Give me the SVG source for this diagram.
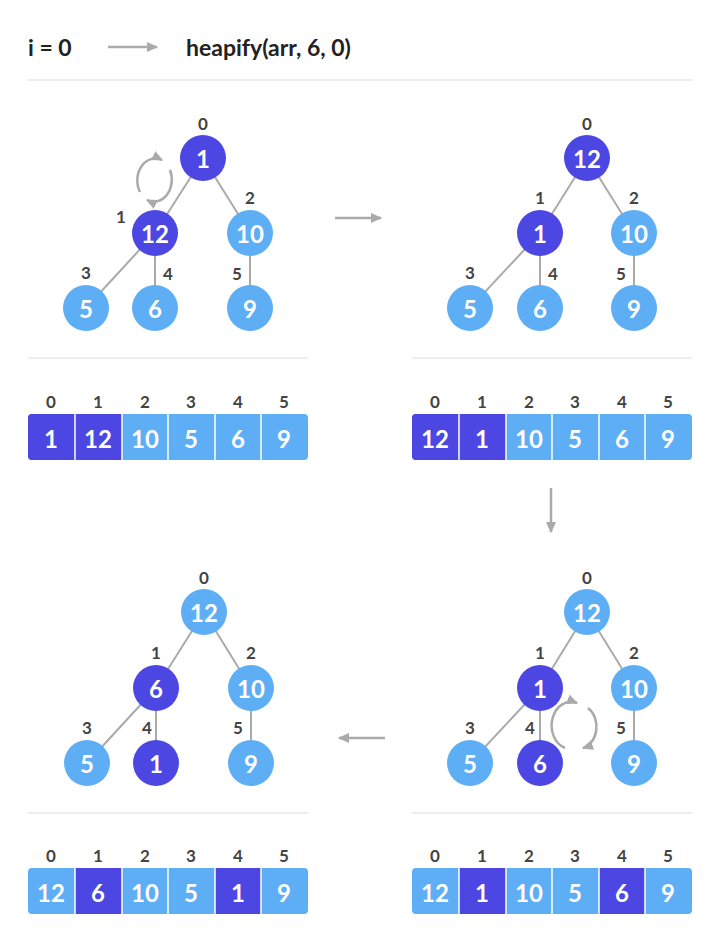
<svg xmlns="http://www.w3.org/2000/svg" width="720" height="943" viewBox="0 0 720 943">
<defs>
<marker id="ah" viewBox="0 0 10 10" refX="8" refY="5" markerWidth="5" markerHeight="5" orient="auto"><path d="M0,1 L9,5 L0,9 z" fill="#aaaaaa"/></marker>
<style>
.d{fill:#4c46e3}.l{fill:#5eaef6}
.nt{font-family:Lato,"Liberation Sans",sans-serif;font-weight:bold;font-size:24px;fill:#fff;text-anchor:middle;dominant-baseline:central}
.ix{font-family:Lato,"Liberation Sans",sans-serif;font-weight:bold;font-size:17px;fill:#444;text-anchor:middle}
.e{stroke:#aaaaaa;stroke-width:2;fill:none}
.sep{stroke:#eeeeee;stroke-width:2}
.ar{stroke:#aaaaaa;stroke-width:2.5;fill:none;marker-end:url(#ah)}
.cl{stroke:#fff;stroke-width:1.5}
</style>
</defs>
<rect width="720" height="943" fill="#fff"/>
<text x="28" y="56" font-family="Lato,'Liberation Sans',sans-serif" font-weight="bold" font-size="23" fill="#222">i = 0</text>
<text x="186" y="56" font-family="Lato,'Liberation Sans',sans-serif" font-weight="bold" font-size="23" fill="#222">heapify(arr, 6, 0)</text>
<g id="connectors">
<line class="ar" x1="108" y1="47" x2="157" y2="47"/>
<line class="ar" x1="335" y1="218" x2="381" y2="218"/>
<line class="ar" x1="551" y1="488" x2="551" y2="532"/>
<line class="ar" x1="385" y1="738" x2="339" y2="738"/>
<line class="sep" x1="28" y1="80" x2="692" y2="80"/>
<line class="sep" x1="28" y1="358" x2="308" y2="358"/>
<line class="sep" x1="412" y1="358" x2="692" y2="358"/>
<line class="sep" x1="28" y1="813" x2="308" y2="813"/>
<line class="sep" x1="412" y1="813" x2="692" y2="813"/>
<path class="ar" d="M140,192 A18,22 0 0 1 162,160"/>
<path class="ar" d="M170,170 A18,22 0 0 1 147,200"/>
<path class="ar" d="M565,748 A18,22 0 0 1 577,703"/>
<path class="ar" d="M588,708 A18,22 0 0 1 583,748"/>
</g>
<g id="tree1">
<path class="e" d="M203,158 L155,233 M203,158 L250,233 M155,233 L86,308 M155,233 L155,308 M250,233 L250,308"/>
<circle class="d" cx="203" cy="158" r="23"/><text class="nt" x="203" y="158">1</text>
<circle class="d" cx="155" cy="233" r="23"/><text class="nt" x="155" y="233">12</text>
<circle class="l" cx="250" cy="233" r="23"/><text class="nt" x="250" y="233">10</text>
<circle class="l" cx="86" cy="308" r="23"/><text class="nt" x="86" y="308">5</text>
<circle class="l" cx="155" cy="308" r="23"/><text class="nt" x="155" y="308">6</text>
<circle class="l" cx="250" cy="308" r="23"/><text class="nt" x="250" y="308">9</text>
<text class="ix" x="203" y="130">0</text><text class="ix" x="121" y="223">1</text><text class="ix" x="250" y="204">2</text>
<text class="ix" x="86" y="279">3</text><text class="ix" x="168" y="280">4</text><text class="ix" x="237" y="280">5</text>
</g>
<g id="tree2">
<path class="e" d="M587,158 L540,233 M587,158 L634,233 M540,233 L470,308 M540,233 L540,308 M634,233 L634,308"/>
<circle class="d" cx="587" cy="158" r="23"/><text class="nt" x="587" y="158">12</text>
<circle class="d" cx="540" cy="233" r="23"/><text class="nt" x="540" y="233">1</text>
<circle class="l" cx="634" cy="233" r="23"/><text class="nt" x="634" y="233">10</text>
<circle class="l" cx="470" cy="308" r="23"/><text class="nt" x="470" y="308">5</text>
<circle class="l" cx="540" cy="308" r="23"/><text class="nt" x="540" y="308">6</text>
<circle class="l" cx="634" cy="308" r="23"/><text class="nt" x="634" y="308">9</text>
<text class="ix" x="587" y="130">0</text><text class="ix" x="540" y="204">1</text><text class="ix" x="634" y="204">2</text>
<text class="ix" x="470" y="279">3</text><text class="ix" x="553" y="280">4</text><text class="ix" x="621" y="280">5</text>
</g>
<g id="tree3">
<path class="e" d="M204,612 L156,688 M204,612 L251,688 M156,688 L87,763 M156,688 L156,763 M251,688 L251,763"/>
<circle class="l" cx="204" cy="612" r="23"/><text class="nt" x="204" y="612">12</text>
<circle class="d" cx="156" cy="688" r="23"/><text class="nt" x="156" y="688">6</text>
<circle class="l" cx="251" cy="688" r="23"/><text class="nt" x="251" y="688">10</text>
<circle class="l" cx="87" cy="763" r="23"/><text class="nt" x="87" y="763">5</text>
<circle class="d" cx="156" cy="763" r="23"/><text class="nt" x="156" y="763">1</text>
<circle class="l" cx="251" cy="763" r="23"/><text class="nt" x="251" y="763">9</text>
<text class="ix" x="204" y="584">0</text><text class="ix" x="156" y="659">1</text><text class="ix" x="251" y="659">2</text>
<text class="ix" x="87" y="734">3</text><text class="ix" x="147" y="734">4</text><text class="ix" x="238" y="734">5</text>
</g>
<g id="tree4">
<path class="e" d="M587,612 L540,688 M587,612 L634,688 M540,688 L470,763 M540,688 L540,763 M634,688 L634,763"/>
<circle class="l" cx="587" cy="612" r="23"/><text class="nt" x="587" y="612">12</text>
<circle class="d" cx="540" cy="688" r="23"/><text class="nt" x="540" y="688">1</text>
<circle class="l" cx="634" cy="688" r="23"/><text class="nt" x="634" y="688">10</text>
<circle class="l" cx="470" cy="763" r="23"/><text class="nt" x="470" y="763">5</text>
<circle class="d" cx="540" cy="763" r="23"/><text class="nt" x="540" y="763">6</text>
<circle class="l" cx="634" cy="763" r="23"/><text class="nt" x="634" y="763">9</text>
<text class="ix" x="587" y="584">0</text><text class="ix" x="540" y="659">1</text><text class="ix" x="634" y="659">2</text>
<text class="ix" x="470" y="734">3</text><text class="ix" x="530" y="734">4</text><text class="ix" x="621" y="734">5</text>
</g>
<g id="array1">
<rect class="l" x="28" y="414" width="280" height="46" rx="4"/>
<path class="d" d="M32,414 H122 V460 H32 A4,4 0 0 1 28,456 V418 A4,4 0 0 1 32,414 z"/>
<path class="cl" d="M75,414 V460 M122,414 V460 M168,414 V460 M215,414 V460 M261,414 V460"/>
<text class="nt" x="51" y="438">1</text><text class="nt" x="98" y="438">12</text><text class="nt" x="145" y="438">10</text><text class="nt" x="191" y="438">5</text><text class="nt" x="238" y="438">6</text><text class="nt" x="284" y="438">9</text>
<text class="ix" x="51" y="408">0</text><text class="ix" x="98" y="408">1</text><text class="ix" x="145" y="408">2</text><text class="ix" x="191" y="408">3</text><text class="ix" x="238" y="408">4</text><text class="ix" x="284" y="408">5</text>
</g>
<g id="array2">
<rect class="l" x="412" y="414" width="280" height="46" rx="4"/>
<path class="d" d="M416,414 H506 V460 H416 A4,4 0 0 1 412,456 V418 A4,4 0 0 1 416,414 z"/>
<path class="cl" d="M459,414 V460 M506,414 V460 M552,414 V460 M599,414 V460 M645,414 V460"/>
<text class="nt" x="435" y="438">12</text><text class="nt" x="482" y="438">1</text><text class="nt" x="529" y="438">10</text><text class="nt" x="575" y="438">5</text><text class="nt" x="622" y="438">6</text><text class="nt" x="668" y="438">9</text>
<text class="ix" x="435" y="408">0</text><text class="ix" x="482" y="408">1</text><text class="ix" x="529" y="408">2</text><text class="ix" x="575" y="408">3</text><text class="ix" x="622" y="408">4</text><text class="ix" x="668" y="408">5</text>
</g>
<g id="array3">
<rect class="l" x="28" y="868" width="280" height="46" rx="4"/>
<rect class="d" x="75" y="868" width="47" height="46"/>
<rect class="d" x="215" y="868" width="46" height="46"/>
<path class="cl" d="M75,868 V914 M122,868 V914 M168,868 V914 M215,868 V914 M261,868 V914"/>
<text class="nt" x="51" y="892">12</text><text class="nt" x="98" y="892">6</text><text class="nt" x="145" y="892">10</text><text class="nt" x="191" y="892">5</text><text class="nt" x="238" y="892">1</text><text class="nt" x="284" y="892">9</text>
<text class="ix" x="51" y="862">0</text><text class="ix" x="98" y="862">1</text><text class="ix" x="145" y="862">2</text><text class="ix" x="191" y="862">3</text><text class="ix" x="238" y="862">4</text><text class="ix" x="284" y="862">5</text>
</g>
<g id="array4">
<rect class="l" x="412" y="868" width="280" height="46" rx="4"/>
<rect class="d" x="459" y="868" width="47" height="46"/>
<rect class="d" x="599" y="868" width="46" height="46"/>
<path class="cl" d="M459,868 V914 M506,868 V914 M552,868 V914 M599,868 V914 M645,868 V914"/>
<text class="nt" x="435" y="892">12</text><text class="nt" x="482" y="892">1</text><text class="nt" x="529" y="892">10</text><text class="nt" x="575" y="892">5</text><text class="nt" x="622" y="892">6</text><text class="nt" x="668" y="892">9</text>
<text class="ix" x="435" y="862">0</text><text class="ix" x="482" y="862">1</text><text class="ix" x="529" y="862">2</text><text class="ix" x="575" y="862">3</text><text class="ix" x="622" y="862">4</text><text class="ix" x="668" y="862">5</text>
</g>
</svg>
